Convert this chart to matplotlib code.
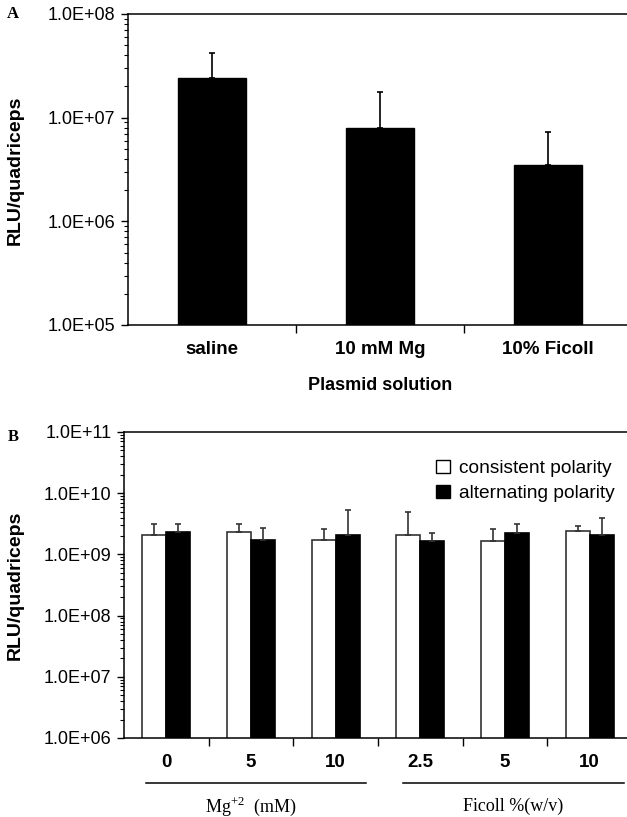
import numpy as np
import matplotlib
matplotlib.use("Agg")
import matplotlib.pyplot as plt
from matplotlib.ticker import LogLocator, FuncFormatter, NullFormatter, FixedLocator
from matplotlib.patches import Patch
from matplotlib.lines import Line2D

plt.rcParams['font.family'] = ['Liberation Sans', 'DejaVu Sans']
plt.rcParams['mathtext.fontset'] = 'custom'
plt.rcParams['mathtext.rm'] = 'Liberation Serif'

# Panel A data
solutions = ["saline", "10 mM Mg", "10% Ficoll"]
rlu_a = [2.4e7, 8.0e6, 3.5e6]
err_a = [1.8e7, 9.8e6, 3.8e6]

# Panel B data
groups = ["0", "5", "10", "2.5", "5", "10"]
consistent = [2.07e9, 2.3e9, 1.71e9, 2.07e9, 1.63e9, 2.42e9]
consistent_err = [1.03e9, 0.8e9, 0.89e9, 2.93e9, 0.95e9, 0.5e9]
alternating = [2.3e9, 1.73e9, 2.07e9, 1.65e9, 2.24e9, 2.07e9]
alternating_err = [0.8e9, 1.02e9, 3.2e9, 0.55e9, 0.86e9, 1.86e9]

W, H = 627, 817
fig = plt.figure(figsize=(W / 100, H / 100), dpi=100)


def fmt(v, pos):
    return f"{v:.1E}"


def style_axis(ax):
    ax.set_yscale('log')
    ax.yaxis.set_major_formatter(FuncFormatter(fmt))
    ax.yaxis.set_minor_locator(LogLocator(base=10, subs=np.arange(2, 10)))
    ax.yaxis.set_minor_formatter(NullFormatter())
    ax.spines['right'].set_visible(False)
    for s in ['left', 'top', 'bottom']:
        ax.spines[s].set_linewidth(1.1)
    ax.tick_params(axis='y', which='major', length=5, width=1, labelsize=13, pad=4)
    ax.tick_params(axis='y', which='minor', length=3, width=0.8)
    ax.tick_params(axis='x', which='major', length=6, width=1, labelsize=13)


# ---------- Panel A ----------
axA = fig.add_axes([128 / W, 1 - 325 / H, (632 - 128) / W, (325 - 14) / H])
xa = np.arange(len(solutions))
axA.bar(xa, rlu_a, width=0.41, color='black', edgecolor='black',
        yerr=[np.zeros(3), err_a], error_kw=dict(ecolor='black', elinewidth=1.2, capsize=2.5, capthick=1.2))
style_axis(axA)
axA.set_ylim(1e5, 1e8)
axA.set_xlim(-0.5, 2.5)
axA.xaxis.set_major_locator(FixedLocator([0.5, 1.5]))
axA.set_xticklabels([])
for i, s in enumerate(solutions):
    axA.text(i, -0.08, s, transform=axA.get_xaxis_transform(), ha='center', va='center',
             fontsize=13.5, fontweight='bold')
axA.text(1, -0.195, "Plasmid solution", transform=axA.get_xaxis_transform(), ha='center',
         va='center', fontsize=13, fontweight='bold')
fig.text(15 / W, 1 - 170 / H, "RLU/quadriceps", rotation=90, ha='center', va='center',
         fontsize=14, fontweight='bold')
fig.text(13 / W, 1 - 14 / H, "A", ha='center', va='center', fontsize=12,
         fontweight='bold', family='Liberation Serif')

# ---------- Panel B ----------
axB = fig.add_axes([124 / W, 1 - 738 / H, (632 - 124) / W, (738 - 432) / H])
xb = np.arange(len(groups))
bw = 0.285
axB.bar(xb - bw / 2, consistent, width=bw, color='white', edgecolor='#333333', linewidth=1.2,
        yerr=[np.zeros(6), consistent_err],
        error_kw=dict(ecolor='#333333', elinewidth=1.2, capsize=2.5, capthick=1.2),
        label='consistent polarity')
axB.bar(xb + bw / 2, alternating, width=bw, color='black', edgecolor='black', linewidth=1.2,
        yerr=[np.zeros(6), alternating_err],
        error_kw=dict(ecolor='#333333', elinewidth=1.2, capsize=2.5, capthick=1.2),
        label='alternating polarity')
style_axis(axB)
axB.set_ylim(1e6, 1e11)
axB.set_xlim(-0.5, 5.5)
axB.xaxis.set_major_locator(FixedLocator([0.5, 1.5, 2.5, 3.5, 4.5]))
axB.set_xticklabels([])
for i, g in enumerate(groups):
    axB.text(i, -0.08, g, transform=axB.get_xaxis_transform(), ha='center', va='center',
             fontsize=13.5, fontweight='bold')

tr = axB.get_xaxis_transform()
axB.add_line(Line2D([-0.24, 2.36], [-0.147, -0.147], transform=tr, color='black',
                    linewidth=1.1, clip_on=False))
axB.add_line(Line2D([2.79, 5.4], [-0.147, -0.147], transform=tr, color='black',
                    linewidth=1.1, clip_on=False))
axB.text(1.0, -0.222, r"Mg$^{+2}$  (mM)", transform=tr, ha='center', va='center',
         fontsize=13, family='Liberation Serif')
axB.text(4.1, -0.222, "Ficoll %(w/v)", transform=tr, ha='center', va='center',
         fontsize=13, family='Liberation Serif')

handles = [Patch(facecolor='white', edgecolor='black', linewidth=1),
           Patch(facecolor='black', edgecolor='black')]
axB.legend(handles, ['consistent polarity', 'alternating polarity'], loc='upper left',
           bbox_to_anchor=(0.6, 0.935), frameon=False, fontsize=13.8, handlelength=0.7,
           handleheight=0.7, handletextpad=0.45, labelspacing=0.4, borderaxespad=0)

fig.text(15 / W, 1 - 585 / H, "RLU/quadriceps", rotation=90, ha='center', va='center',
         fontsize=14, fontweight='bold')
fig.text(13 / W, 1 - 437 / H, "B", ha='center', va='center', fontsize=12,
         fontweight='bold', family='Liberation Serif')

fig.savefig("out.png", dpi=100)
